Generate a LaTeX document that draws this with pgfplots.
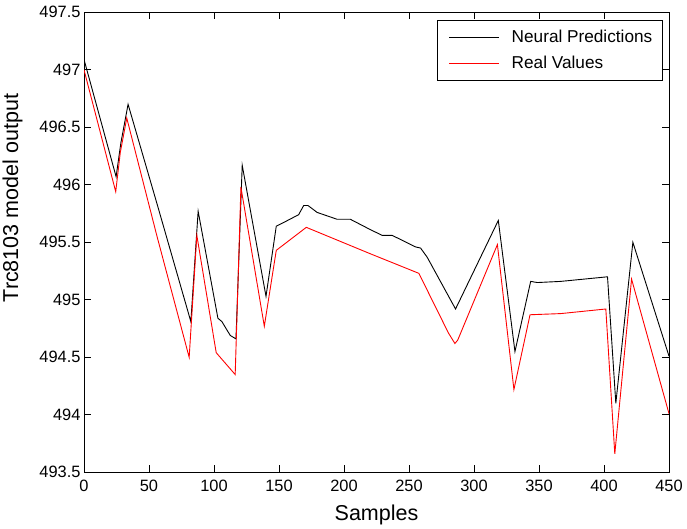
\documentclass[border=0pt]{standalone}
\usepackage{fontspec}
\setmainfont{Liberation Sans}
\usepackage{pgfplots}
\pgfplotsset{compat=1.18}
\begin{document}
\begin{tikzpicture}
\begin{axis}[
  name=ax,
  scale only axis,
  width=585pt, height=460pt,
  xmin=0, xmax=450, ymin=493.5, ymax=497.5,
  xtick={0,50,...,450},
  ytick={493.5,494,...,497.5},
  scaled ticks=false,
  /pgf/number format/assume math mode=true,
  tick align=inside,
  major tick length=7pt,
  axis line style={line width=0.9pt},
  every tick/.style={black, line width=0.8pt},
  tick label style={font=\fontsize{16.4}{19}\selectfont},
  xticklabel style={yshift=-4pt},
  every axis x label/.style={at={(axis description cs:0.5,0)}, anchor=base, yshift=-48.4pt, font=\fontsize{21.5}{25}\selectfont},
  every axis y label/.style={at={(axis description cs:0,0.596)}, anchor=center, xshift=-71.5pt, rotate=90, font=\fontsize{21.5}{25}\selectfont},
  xlabel={Samples},
  ylabel={Trc8103 model output},
  legend cell align=left,
  legend style={at={(axis description cs:0.9903,0.9833)}, anchor=north east, draw=black, line width=0.9pt, font=\fontsize{17.2}{20}\selectfont, inner xsep=10.6pt, inner ysep=8pt, nodes={inner xsep=0pt, inner ysep=2pt}, row sep=8pt, /tikz/every odd column/.append style={column sep=12pt}},
  legend image code/.code={\path (-0.4pt,0pt); \draw[#1, line width=0.7pt] (0pt,0pt) -- (50pt,0pt);},
]
\addplot[black, line width=0.9pt] coordinates {
(0,497.09) (24.7,496.07) (28.3,496.36) (33.9,496.70) (56.8,495.81) (82.2,494.81)
(87.8,495.77) (103,494.84) (106.1,494.81) (112.5,494.69) (116.9,494.66) (121.7,496.17)
(140,495.03) (147.9,495.64) (154.9,495.68) (165.1,495.74) (169,495.82) (172.3,495.82)
(179.3,495.76) (194.7,495.70) (204.9,495.70) (220.3,495.61) (229.4,495.56) (237.1,495.56)
(255,495.46) (258.9,495.45) (264,495.37) (285.8,494.92) (318.7,495.69) (331.5,494.55)
(343.6,495.16) (348.8,495.15) (366.7,495.16) (402.7,495.20) (409.1,494.10) (422.2,495.50)
(450,494.51)
};
\addlegendentry{Neural Predictions}
\addplot[red, line width=0.9pt] coordinates {
(0,497.00) (24.4,495.94) (27.9,496.28) (32.9,496.58) (56.2,495.55) (80.9,494.50)
(86.8,495.56) (101.7,494.54) (116.3,494.35) (120.7,495.98) (138.7,494.77) (147.9,495.43)
(171,495.63) (220.3,495.40) (257.6,495.23) (280.4,494.71) (285.3,494.62) (287.5,494.65)
(318,495.48) (330.7,494.22) (343.1,494.87) (366.7,494.88) (401.4,494.92) (408.3,493.66)
(421.2,495.18) (450,494.01)
};
\addlegendentry{Real Values}
\end{axis}
\pgfresetboundingbox
\path[use as bounding box] ([shift={(-84pt,-56.7pt)}]ax.south west) rectangle ([shift={(18pt,12.3pt)}]ax.north east);
\end{tikzpicture}
\end{document}
